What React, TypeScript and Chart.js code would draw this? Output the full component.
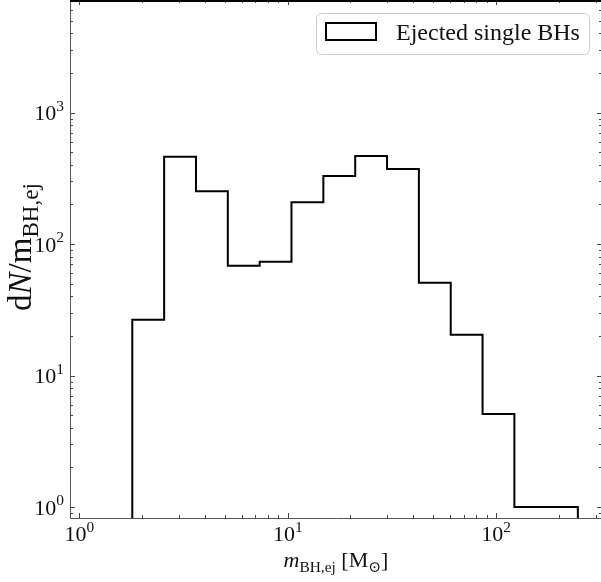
import { useEffect, useRef } from 'react';
import { Chart, registerables } from 'chart.js';

Chart.register(...registerables);

// ---- data ----
const binEdges = [1.795, 2.552, 3.628, 5.158, 7.333, 10.42, 14.82, 21.07, 29.95, 42.58, 60.54, 86.06, 122.3, 173.9, 246.6];
const counts = [26.6, 461, 252, 68.4, 73.3, 208, 329, 467, 372, 50.8, 20.4, 5.1, 1.0, 1.0];
const xRange = [0.902, 322];
const yRange = [0.825, 7174];
const xTickExponents = [0, 1, 2];
const yTickExponents = [0, 1, 2, 3];
const seriesLabel = 'Ejected single BHs';

// ---- layout ----
const CANVAS_W = 620;
const CANVAS_H = 582;
const AREA = { left: 70, top: 0, right: 602, bottom: 518 };
const FONT = '"Liberation Serif", "DejaVu Serif", serif';
const FS = 22;
const YLABEL_FS = 33;

type Seg = { t: string; it?: boolean; sub?: boolean; sup?: boolean };

function fontFor(s: Seg, size: number) {
  const px = s.sub || s.sup ? size * 0.7 : size;
  return `${s.it ? 'italic ' : ''}${px}px ${FONT}`;
}
function measureSegs(ctx: CanvasRenderingContext2D, segs: Seg[], size: number) {
  let w = 0;
  for (const s of segs) {
    ctx.font = fontFor(s, size);
    w += ctx.measureText(s.t).width;
  }
  return w;
}
function drawSegs(ctx: CanvasRenderingContext2D, segs: Seg[], x: number, y: number, size: number) {
  let cx = x;
  for (const s of segs) {
    ctx.font = fontFor(s, size);
    const dy = s.sub ? 0.22 * size : s.sup ? -0.42 * size : 0;
    ctx.fillText(s.t, cx, y + dy);
    cx += ctx.measureText(s.t).width;
  }
}

function stepPoints() {
  const pts: { x: number; y: number }[] = [];
  pts.push({ x: binEdges[0], y: 1e-3 });
  counts.forEach((c, i) => {
    pts.push({ x: binEdges[i], y: c });
    pts.push({ x: binEdges[i + 1], y: c });
  });
  pts.push({ x: binEdges[binEdges.length - 1], y: 1e-3 });
  return pts;
}

function logTicks(min: number, max: number) {
  const out: { v: number; major: boolean }[] = [];
  for (let e = Math.floor(Math.log10(min)) - 1; e <= Math.ceil(Math.log10(max)) + 1; e++) {
    for (let k = 1; k <= 9; k++) {
      const v = k * Math.pow(10, e);
      if (v >= min && v <= max) out.push({ v, major: k === 1 });
    }
  }
  return out;
}

const axesPlugin = {
  id: 'mplAxes',
  afterDraw(chart: any) {
    const ctx: CanvasRenderingContext2D = chart.ctx;
    const xs = chart.scales.x;
    const ys = chart.scales.y;
    const a = chart.chartArea;
    ctx.save();

    // ticks
    ctx.strokeStyle = '#444';
    ctx.lineWidth = 1;
    ctx.beginPath();
    for (const t of logTicks(xs.min, xs.max)) {
      const px = Math.round(xs.getPixelForValue(t.v)) + 0.5;
      const len = t.major ? 5 : 3;
      ctx.moveTo(px, a.bottom);
      ctx.lineTo(px, a.bottom - len);
      ctx.moveTo(px, a.top);
      ctx.lineTo(px, a.top + len);
    }
    for (const t of logTicks(ys.min, ys.max)) {
      const py = Math.round(ys.getPixelForValue(t.v)) + 0.5;
      const len = t.major ? 5 : 3;
      ctx.moveTo(a.left, py);
      ctx.lineTo(a.left + len, py);
      ctx.moveTo(a.right, py);
      ctx.lineTo(a.right - len, py);
    }
    ctx.stroke();

    // spines
    ctx.strokeStyle = '#555';
    ctx.beginPath();
    ctx.moveTo(a.left + 0.5, a.top);
    ctx.lineTo(a.left + 0.5, a.bottom + 0.5);
    ctx.lineTo(a.right + 0.5, a.bottom + 0.5);
    ctx.lineTo(a.right + 0.5, a.top);
    ctx.stroke();
    ctx.fillStyle = '#000';
    ctx.fillRect(a.left, a.top, a.right - a.left + 1, 2);

    // tick labels
    ctx.fillStyle = '#111';
    ctx.textAlign = 'left';
    ctx.textBaseline = 'alphabetic';
    for (const e of xTickExponents) {
      const segs: Seg[] = [{ t: '10' }, { t: String(e), sup: true }];
      const w = measureSegs(ctx, segs, FS);
      const px = xs.getPixelForValue(Math.pow(10, e));
      drawSegs(ctx, segs, px - w / 2, a.bottom + 23, FS);
    }
    for (const e of yTickExponents) {
      const segs: Seg[] = [{ t: '10' }, { t: String(e), sup: true }];
      const w = measureSegs(ctx, segs, FS);
      const py = ys.getPixelForValue(Math.pow(10, e));
      drawSegs(ctx, segs, a.left - 6 - w, py + 7.5, FS);
    }

    // x axis label
    const xl: Seg[] = [
      { t: 'm', it: true },
      { t: 'BH,ej', sub: true },
      { t: ' [M' },
      { t: '\u2299', sub: true },
      { t: ']' },
    ];
    const xw = measureSegs(ctx, xl, FS);
    drawSegs(ctx, xl, (a.left + a.right) / 2 - xw / 2, 567, FS);

    // y axis label
    const yl: Seg[] = [
      { t: 'd' },
      { t: 'N', it: true },
      { t: '/m' },
      { t: 'BH,ej', sub: true },
    ];
    const yw = measureSegs(ctx, yl, YLABEL_FS);
    ctx.save();
    ctx.translate(31, 247);
    ctx.rotate(-Math.PI / 2);
    drawSegs(ctx, yl, -yw / 2, 0, YLABEL_FS);
    ctx.restore();

    // legend
    const lx = 316, ly = 13, lw = 273, lh = 41;
    ctx.beginPath();
    if ((ctx as any).roundRect) (ctx as any).roundRect(lx + 0.5, ly + 0.5, lw, lh, 5);
    else ctx.rect(lx + 0.5, ly + 0.5, lw, lh);
    ctx.fillStyle = 'rgba(255,255,255,0.8)';
    ctx.fill();
    ctx.strokeStyle = '#cccccc';
    ctx.lineWidth = 1;
    ctx.stroke();
    const ds = chart.data.datasets[0];
    ctx.strokeStyle = ds.borderColor;
    ctx.lineWidth = 2;
    ctx.strokeRect(326, 23, 50, 17);
    ctx.fillStyle = '#111';
    ctx.font = `24px ${FONT}`;
    ctx.fillText(ds.label, 396, 40);

    ctx.restore();
  },
};

export default function App() {
  const ref = useRef<HTMLCanvasElement>(null);
  useEffect(() => {
    const canvas = ref.current!;
    const chart = new Chart(canvas, {
      type: 'line',
      data: {
        datasets: [
          {
            label: seriesLabel,
            data: stepPoints(),
            borderColor: '#000000',
            borderWidth: 2,
            pointRadius: 0,
            fill: false,
            tension: 0,
            borderJoinStyle: 'miter',
            borderCapStyle: 'butt',
          },
        ],
      },
      options: {
        responsive: false,
        animation: false,
        devicePixelRatio: 1,
        layout: {
          padding: {
            left: AREA.left,
            top: AREA.top,
            right: CANVAS_W - AREA.right,
            bottom: CANVAS_H - AREA.bottom,
          },
        },
        scales: {
          x: { type: 'logarithmic', min: xRange[0], max: xRange[1], display: false },
          y: { type: 'logarithmic', min: yRange[0], max: yRange[1], display: false },
        },
        plugins: { legend: { display: false }, tooltip: { enabled: false } },
        events: [],
      },
      plugins: [axesPlugin],
    } as any);
    return () => chart.destroy();
  }, []);
  return (
    <div style={{ position: 'absolute', left: 0, top: 0, width: 601, height: 582, overflow: 'hidden', background: '#fff' }}>
      <canvas ref={ref} width={CANVAS_W} height={CANVAS_H} style={{ display: 'block', width: CANVAS_W, height: CANVAS_H }} />
    </div>
  );
}
